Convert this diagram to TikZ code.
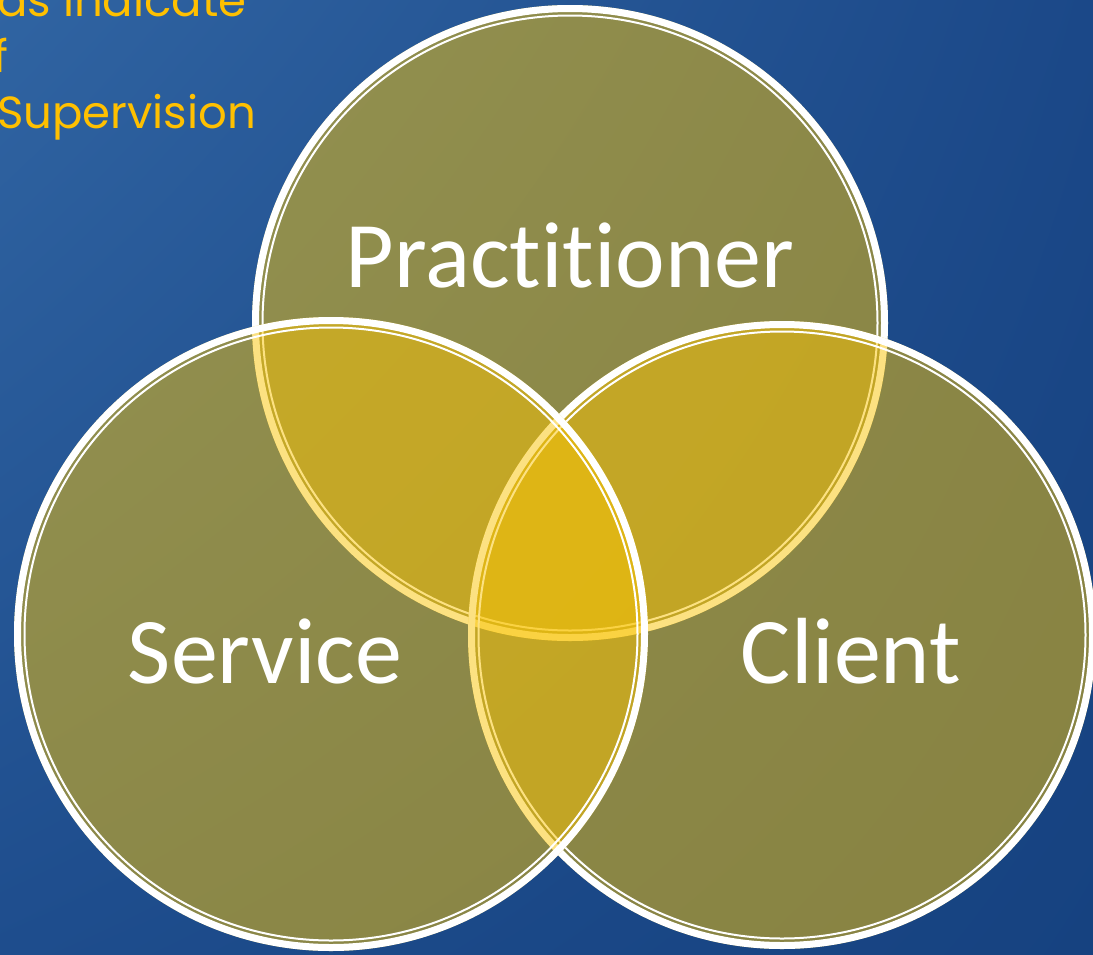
\documentclass[tikz,border=0pt]{standalone}
\usepackage{fontspec}
\usetikzlibrary{shadings}
\setmainfont{Carlito}[Ligatures=NoCommon]
\newfontfamily\handfont{Poppins}
\definecolor{bgtl}{RGB}{48,100,162}
\definecolor{bgtr}{RGB}{27,72,136}
\definecolor{bgbl}{RGB}{30,77,141}
\definecolor{bgbr}{RGB}{22,66,128}
\definecolor{venngold}{RGB}{250,196,5}
\definecolor{notegold}{RGB}{255,192,0}
\begin{document}
\begin{tikzpicture}[x=1pt,y=-1pt,
  disc/.style={fill=venngold,fill opacity=0.5},
  rim/.style={draw=white,line width=7pt},
  innerrim/.style={draw=white,line width=2pt},
  venntext/.style={text=white,font=\fontsize{94}{100}\selectfont,anchor=base,inner sep=0pt},
  note/.style={text=notegold,font=\handfont\fontsize{45}{56}\selectfont,anchor=base west,inner sep=0pt}]
\useasboundingbox (0,0) rectangle (1093,954);
\clip (0,0) rectangle (1093,954);
\shade[upper left=bgtl, upper right=bgtr, lower left=bgbl, lower right=bgbr] (0,0) rectangle (1093,954);

% top, right, left -- each one goes over the ones before
\foreach \cx/\cy/\r in {570/323/318, 782/635/314, 331/634/317}{
\fill[disc] (\cx,\cy) circle[radius=\r];
\draw[rim] (\cx,\cy) circle[radius=\r-3.5];
\draw[innerrim] (\cx,\cy) circle[radius=\r-10.5];
}

\node[venntext] (practitioner) at (570,287) {Practitioner};
\node[venntext] (service) at (265,683) {Service};
\node[venntext] (client) at (851,683) {Client};

\node[note] (noteA) at (-3,16) {as indicate};
\node[note] (noteB) at (-7,72) {f};
\node[note] (noteC) at (-3,128) {Supervision};
\end{tikzpicture}
\end{document}
